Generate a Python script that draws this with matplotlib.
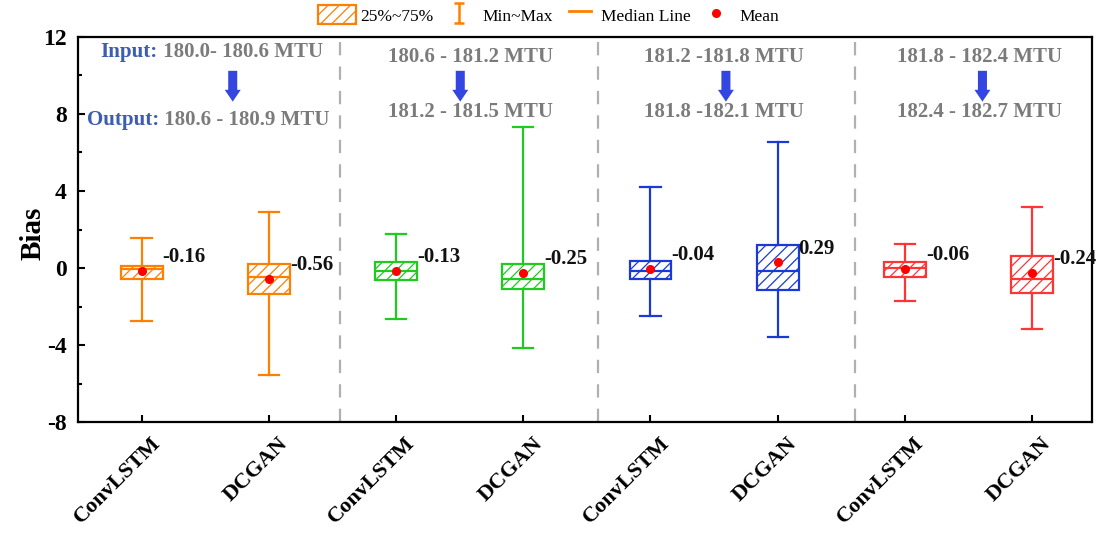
import matplotlib
matplotlib.use("Agg")
import matplotlib.pyplot as plt
import matplotlib.transforms as mtransforms
from matplotlib.patches import Patch
from matplotlib.lines import Line2D
from matplotlib.path import Path
from matplotlib.legend_handler import HandlerBase

plt.rcParams['font.family'] = ['Liberation Serif', 'DejaVu Serif']
plt.rcParams['hatch.linewidth'] = 0.9
plt.rcParams['axes.unicode_minus'] = False

# ---------------- data ----------------
categories = ['ConvLSTM', 'DCGAN'] * 4
q1     = [-0.59, -1.35, -0.62, -1.11, -0.59, -1.16, -0.45, -1.28]
q3     = [0.12, 0.21, 0.30, 0.22, 0.35, 1.19, 0.33, 0.64]
median = [-0.05, -0.48, -0.14, -0.57, -0.16, -0.14, -0.02, -0.57]
wmin   = [-2.74, -5.56, -2.67, -4.14, -2.48, -3.60, -1.70, -3.17]
wmax   = [1.54, 2.90, 1.75, 7.32, 4.20, 6.55, 1.25, 3.17]
mean   = [-0.16, -0.56, -0.13, -0.25, -0.04, 0.29, -0.06, -0.24]
input_ranges  = ['180.0- 180.6 MTU', '180.6 - 181.2 MTU', '181.2 -181.8 MTU', '181.8 - 182.4 MTU']
output_ranges = ['180.6 - 180.9 MTU', '181.2 - 181.5 MTU', '181.8 -182.1 MTU', '182.4 - 182.7 MTU']
yticks = [-8, -4, 0, 4, 8, 12]

colors = ['#ff8000', '#ff8000', '#1ecb1e', '#1ecb1e', '#1a3ad8', '#1a3ad8', '#ff3434', '#ff3434']
gray_txt = '#7b7b7b'
blue_txt = '#3d5db0'

fig = plt.figure(figsize=(10.97, 5.35), dpi=100)
ax = fig.add_axes([0.0711, 0.211, 0.9243, 0.720])

positions = list(range(1, len(categories) + 1))
width = 0.33
for i, p in enumerate(positions):
    st = [dict(med=median[i], q1=q1[i], q3=q3[i], whislo=wmin[i], whishi=wmax[i],
               mean=mean[i], fliers=[])]
    c = colors[i]
    ax.bxp(st, positions=[p], widths=width, capwidths=0.16, patch_artist=True,
           showmeans=True, showfliers=False,
           boxprops=dict(facecolor='white', edgecolor=c, linewidth=1.6, hatch='///'),
           whiskerprops=dict(color=c, linewidth=1.6),
           capprops=dict(color=c, linewidth=1.6),
           medianprops=dict(color=c, linewidth=1.6),
           meanprops=dict(marker='o', markerfacecolor='red', markeredgecolor='red',
                          markersize=5.5))
    ax.annotate(f'{mean[i]:.2f}', xy=(p + width / 2, mean[i]), xytext=(0, 10),
                textcoords='offset points', ha='left', va='center',
                fontsize=15, fontweight='bold', color='#111111')

# dividers
for xd in [2.56, 4.59, 6.61]:
    ax.axvline(xd, color='#b0b0b0', lw=1.6, ls=(0, (6, 5)), zorder=0)

ax.set_xlim(0.5, 8.47)
ax.set_ylim(-8, 12)
ax.set_yticks(yticks)
ax.set_yticks([-6, -2, 2, 6, 10], minor=True)
ax.set_xticks(positions)
ax.tick_params(axis='both', which='both', direction='in', width=1.5,
               top=False, right=False)
ax.tick_params(axis='both', which='major', length=5)
ax.tick_params(axis='y', which='major', pad=8)
ax.tick_params(axis='y', which='minor', length=3)
ax.tick_params(axis='x', pad=8)
ax.set_xticklabels(categories, rotation=45, ha='right', rotation_mode='anchor',
                   fontsize=16, fontweight='bold')
shift = mtransforms.ScaledTranslation(9 / 100, 0, fig.dpi_scale_trans)
for t in ax.xaxis.get_major_ticks():
    t.label1.set_transform(t.label1.get_transform() + shift)
for lab in ax.get_yticklabels():
    lab.set_fontsize(17)
    lab.set_fontweight('bold')
for s in ax.spines.values():
    s.set_linewidth(1.6)
ax.set_ylabel('Bias', fontsize=21, fontweight='bold')
ax.yaxis.set_label_coords(-0.031, 0.49)

# panel annotations
txt_x = [0.131, 0.387, 0.637, 0.889]
arr_x = [0.1526, 0.377, 0.639, 0.892]
for k in range(4):
    y_in = 0.961 if k == 0 else 0.949
    y_out = 0.784 if k == 0 else 0.805
    if k == 0:
        t1 = ax.text(0.022, y_in, 'Input:', transform=ax.transAxes, ha='left', va='center',
                     fontsize=15, fontweight='bold', color=blue_txt)
        ax.annotate(' ' + input_ranges[k], xy=(1, 0.5), xycoords=t1, ha='left', va='center',
                    fontsize=15, fontweight='bold', color=gray_txt)
        t2 = ax.text(0.009, y_out, 'Output:', transform=ax.transAxes, ha='left', va='center',
                     fontsize=15, fontweight='bold', color=blue_txt)
        ax.annotate(' ' + output_ranges[k], xy=(1, 0.5), xycoords=t2, ha='left', va='center',
                    fontsize=15, fontweight='bold', color=gray_txt)
    else:
        ax.text(txt_x[k], y_in, input_ranges[k], transform=ax.transAxes, ha='center',
                va='center', fontsize=15, fontweight='bold', color=gray_txt)
        ax.text(txt_x[k], y_out, output_ranges[k], transform=ax.transAxes, ha='center',
                va='center', fontsize=15, fontweight='bold', color=gray_txt)
    ax.annotate('', xy=(arr_x[k], 0.832), xytext=(arr_x[k], 0.912),
                xycoords='axes fraction', textcoords='axes fraction',
                arrowprops=dict(arrowstyle='simple,head_width=1.15,head_length=0.85,tail_width=0.65',
                                color='#3347e0', lw=0, shrinkA=0, shrinkB=0,
                                mutation_scale=10))


# legend
class ShortLine(HandlerBase):
    def create_artists(self, legend, orig, xdescent, ydescent, width, height, fontsize, trans):
        l = Line2D([0.26 * width, 0.84 * width], [height / 2, height / 2],
                   color=orig.get_color(), lw=orig.get_linewidth())
        l.set_transform(trans)
        return [l]


ibar = Path([(-0.5, -1), (0.5, -1), (0, -1), (0, 1), (-0.5, 1), (0.5, 1)],
            [Path.MOVETO, Path.LINETO, Path.MOVETO, Path.LINETO, Path.MOVETO, Path.LINETO])
h_box = Patch(facecolor='white', edgecolor='#ff8000', hatch='///', lw=1.6, label='25%~75%')
h_mm = Line2D([], [], ls='none', marker=ibar, markersize=15, markeredgewidth=1.8,
              color='#ff8000', label='Min~Max')
h_med = Line2D([], [], color='#ff8000', lw=2, label='Median Line')
h_mean = Line2D([], [], ls='none', marker='o', markersize=5.5, color='red', label='Mean')
leg = fig.legend(handles=[h_box, h_mm, h_med, h_mean], loc='center', ncol=4,
                 bbox_to_anchor=(0.5, 0.972), frameon=False, fontsize=12.5,
                 handlelength=2.2, handleheight=1.3, handletextpad=0.25, columnspacing=0.35,
                 numpoints=1, handler_map={h_med: ShortLine()})

fig.savefig('out.png', dpi=100)
